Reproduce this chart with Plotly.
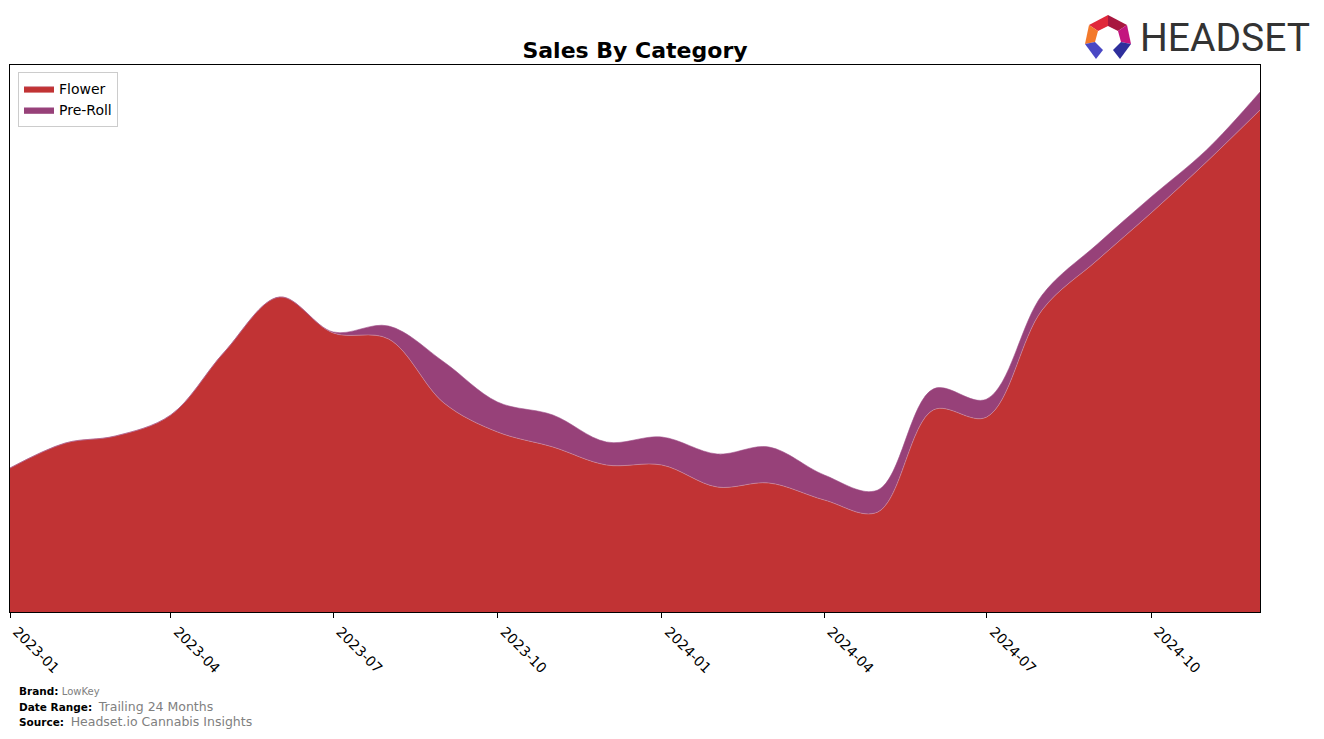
import plotly.graph_objects as go

# monthly sales (relative units)
months = [
    "2023-01-01", "2023-02-01", "2023-03-01", "2023-04-01", "2023-05-01", "2023-06-01",
    "2023-07-01", "2023-08-01", "2023-09-01", "2023-10-01", "2023-11-01", "2023-12-01",
    "2024-01-01", "2024-02-01", "2024-03-01", "2024-04-01", "2024-05-01", "2024-06-01",
    "2024-07-01", "2024-08-01", "2024-09-01", "2024-10-01", "2024-11-01", "2024-12-01",
]
flower = [144, 169, 176, 197, 260, 315, 279, 273, 209, 180, 165, 147,
          147, 125, 129, 112, 100, 202, 195, 302, 352, 399, 450, 502]
pre_roll = [0, 0, 0, 0, 0, 0, 1, 13, 41, 30, 32, 23,
            28, 33, 36, 25, 22, 21, 18, 15, 16, 16, 12, 18]

tick_vals = ["2023-01-01", "2023-04-01", "2023-07-01", "2023-10-01",
             "2024-01-01", "2024-04-01", "2024-07-01", "2024-10-01"]
tick_text = ["2023-01", "2023-04", "2023-07", "2023-10",
             "2024-01", "2024-04", "2024-07", "2024-10"]

W, H = 1324, 739
L, R, T, B = 10, 1260, 65, 612


def px(x, y):
    # pixel -> paper coords
    return (x - L) / (R - L), (B - y) / (B - T)


def poly(points, color):
    pts = [px(x, y) for x, y in points]
    d = "M " + " L ".join(f"{a:.5f},{b:.5f}" for a, b in pts) + " Z"
    return dict(type="path", xref="paper", yref="paper", path=d,
                fillcolor=color, line=dict(width=0), layer="above")


fig = go.Figure()
fig.add_trace(go.Scatter(
    x=months, y=flower, name="Flower", mode="lines", stackgroup="one",
    line=dict(shape="spline", smoothing=1.0, width=0.6, color="#cf8d9f"),
    fillcolor="#c13334"))
fig.add_trace(go.Scatter(
    x=months, y=pre_roll, name="Pre-Roll", mode="lines", stackgroup="one",
    line=dict(shape="spline", smoothing=1.0, width=0.6, color="#a0508a"),
    fillcolor="#974179"))

# headset logo (approximate)
shapes = [
    poly([(1089, 25), (1108, 15), (1108, 26), (1098, 31)], "#e0283a"),
    poly([(1108, 15), (1127, 25), (1118, 31), (1108, 26)], "#a8173f"),
    poly([(1127, 25), (1131, 44), (1121, 42), (1118, 31)], "#c3157f"),
    poly([(1089, 25), (1098, 31), (1095, 42), (1085, 44)], "#f3792b"),
    poly([(1085, 44), (1095, 42), (1103, 50), (1096, 59)], "#4a48c4"),
    poly([(1131, 44), (1121, 42), (1113, 50), (1120, 59)], "#2e2f9c"),
]

foot = dict(xref="paper", yref="paper", x=px(17, 0)[0], xanchor="left",
            yanchor="middle", showarrow=False,
            font=dict(family="DejaVu Sans", size=10.5, color="black"))

annotations = [
    dict(text="HEADSET", xref="paper", yref="paper", x=px(1138, 0)[0], y=px(0, 38)[1],
         xanchor="left", yanchor="middle", showarrow=False,
         font=dict(family="Roboto, sans-serif", size=39, color="#333333")),
    dict(foot, y=px(0, 691)[1],
         text="<b>Brand:</b> <span style='color:#808080;font-size:10px'>LowKey</span>"),
    dict(foot, y=px(0, 706)[1],
         text="<b>Date Range:</b>  <span style='color:#808080;font-size:12.5px'>Trailing 24 Months</span>"),
    dict(foot, y=px(0, 721)[1],
         text="<b>Source:</b>  <span style='color:#808080;font-size:12.5px'>Headset.io Cannabis Insights</span>"),
]

fig.update_layout(
    width=W, height=H,
    margin=dict(l=L, r=W - R, t=T, b=H - B, autoexpand=False),
    paper_bgcolor="white", plot_bgcolor="white",
    font=dict(family="DejaVu Sans", color="black"),
    title=dict(text="<b>Sales By Category</b>", x=0.5, xref="paper",
               y=1 - 50 / H, yanchor="middle", font=dict(size=22)),
    legend=dict(x=px(18, 0)[0], y=px(0, 72)[1], xanchor="left", yanchor="top",
                bgcolor="white", bordercolor="#cccccc", borderwidth=1,
                font=dict(size=14), traceorder="normal", tracegroupgap=0),
    showlegend=True,
    shapes=shapes,
    annotations=annotations,
)
fig.update_xaxes(
    range=["2023-01-01", "2024-12-01"], tickvals=tick_vals, ticktext=tick_text,
    tickangle=45, ticks="outside", ticklen=5, tickcolor="black", automargin=False,
    ticklabelshift=7,
    showline=True, linecolor="black", linewidth=1, mirror=True,
    showgrid=False, zeroline=False, tickfont=dict(size=14))
fig.update_yaxes(
    range=[0, B - T], showticklabels=False, ticks="", automargin=False,
    showline=True, linecolor="black", linewidth=1, mirror=True,
    showgrid=False, zeroline=False)

fig.write_html("out.html", config={"displayModeBar": False},
               post_script="document.body.style.margin='0px';")
